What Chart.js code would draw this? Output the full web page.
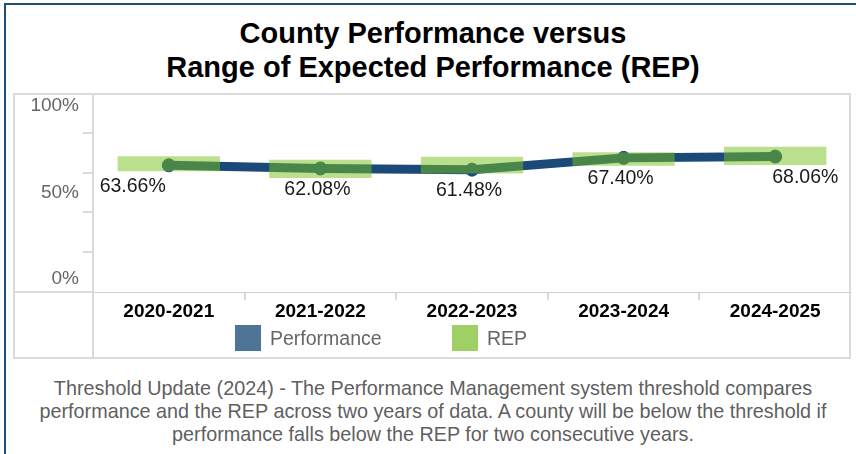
<!DOCTYPE html>
<html lang="en">
<head>
  <meta charset="UTF-8" />
  <title>County Performance versus REP</title>
  <script src="https://cdn.jsdelivr.net/npm/chart.js"></script>
  <style>
    html, body {
      margin: 0;
      overflow: hidden;
    }
    body {
      width: 856px;
      height: 454px;
      background: #fff;
      font-family: 'Liberation Sans', Arial, sans-serif;
      position: relative;
    }
    .frame {
      position: absolute;
      left: 4px;
      top: 3px;
      width: 850px;
      height: 449px;
      border-left: 2px solid #1c4e7a;
      border-top: 2px solid #1c4e7a;
    }
    .title {
      position: absolute;
      left: 6px;
      width: 854px;
      top: 16px;
      margin: 0;
      text-align: center;
      font-size: 29px;
      line-height: 34px;
      font-weight: bold;
      color: #000;
    }
    #chart-wrap {
      position: absolute;
      left: 13px;
      top: 93px;
      width: 838px;
      height: 266px;
    }
    .legend {
      position: absolute;
      top: 325px;
      font-size: 19.5px;
      color: #666;
      line-height: 26px;
      white-space: nowrap;
    }
    .legend span.box {
      display: inline-block;
      width: 26px;
      height: 26px;
      vertical-align: top;
      margin-right: 9px;
    }
    .note {
      position: absolute;
      left: 6px;
      width: 854px;
      top: 377px;
      margin: 0;
      text-align: center;
      font-size: 19.8px;
      line-height: 23px;
      color: #5f5f5f;
      white-space: nowrap;
    }
  </style>
</head>
<body>
  <div class="frame"></div>
  <h2 class="title">County Performance versus<br>Range of Expected Performance (REP)</h2>

  <div id="chart-wrap"><canvas id="repChart" width="838" height="266"></canvas></div>

  <div class="legend" style="left:235px"><span class="box" style="background:#4e7496"></span>Performance</div>
  <div class="legend" style="left:452px"><span class="box" style="background:#9fd066"></span>REP</div>

  <p class="note">Threshold Update (2024) - The Performance Management system threshold compares<br>performance and the REP across two years of data. A county will be below the threshold if<br>performance falls below the REP for two consecutive years.</p>

  <script>
    const years = ['2020-2021', '2021-2022', '2022-2023', '2023-2024', '2024-2025'];
    const performance = [63.66, 62.08, 61.48, 67.40, 68.06];
    const repLow = [60.7, 57.3, 59.5, 63.5, 63.8];
    const repHigh = [68.2, 66.5, 68.0, 70.2, 73.0];
    const yTickValues = [0, 50, 100];
    const yTickLabels = ['0%', '50%', '100%'];
    const labelAlign = ['right', 'center', 'center', 'center', 'left'];

    const gray = '#dadada';

    // frame lines around the axis area (Tableau style grid)
    const framePlugin = {
      id: 'frame',
      beforeDraw(chart) {
        const { ctx, chartArea, width, height } = chart;
        ctx.save();
        ctx.strokeStyle = gray;
        ctx.lineWidth = 2;
        ctx.strokeRect(1, 1, width - 2, height - 2);
        ctx.beginPath();
        ctx.moveTo(chartArea.left, 0);
        ctx.lineTo(chartArea.left, height);
        ctx.moveTo(0, chartArea.bottom);
        ctx.lineTo(chartArea.left, chartArea.bottom);
        ctx.stroke();
        ctx.restore();
      },
      afterDraw(chart) {
        // y labels, kept inside the pane like Tableau does
        const { ctx, chartArea } = chart;
        const y = chart.scales.y;
        ctx.save();
        ctx.font = '19px "Liberation Sans", Arial, sans-serif';
        ctx.fillStyle = '#666';
        ctx.textAlign = 'right';
        ctx.textBaseline = 'middle';
        yTickValues.forEach((v, i) => {
          let py = y.getPixelForValue(v);
          py = Math.max(chartArea.top + 13, Math.min(chartArea.bottom - 13, py));
          ctx.fillText(yTickLabels[i], chartArea.left - 14, py);
        });
        ctx.restore();
      }
    };

    const pointLabels = {
      id: 'pointLabels',
      afterDatasetsDraw(chart) {
        const { ctx } = chart;
        const meta = chart.getDatasetMeta(1);
        ctx.save();
        ctx.font = '19.5px "Liberation Sans", Arial, sans-serif';
        ctx.fillStyle = '#1a1a1a';
        ctx.textBaseline = 'middle';
        meta.data.forEach((pt, i) => {
          ctx.textAlign = labelAlign[i];
          ctx.fillText(performance[i].toFixed(2) + '%', pt.x - 3, pt.y + 21);
        });
        ctx.restore();
      }
    };

    const ctx = document.getElementById('repChart').getContext('2d');
    new Chart(ctx, {
      type: 'bar',
      data: {
        labels: years,
        datasets: [
          {
            label: 'REP',
            data: years.map((_, i) => [repLow[i], repHigh[i]]),
            backgroundColor: 'rgba(119, 193, 27, 0.5)',
            borderWidth: 0,
            barPercentage: 0.675,
            categoryPercentage: 1,
            order: 0
          },
          {
            type: 'line',
            label: 'Performance',
            data: performance,
            borderColor: '#1c4a78',
            backgroundColor: '#1c4a78',
            borderWidth: 9,
            pointRadius: 6.5,
            pointBorderWidth: 1,
            pointHoverRadius: 6.5,
            tension: 0,
            order: 1
          }
        ]
      },
      options: {
        responsive: false,
        animation: false,
        layout: { padding: 0, autoPadding: false },
        plugins: {
          legend: { display: false },
          tooltip: { enabled: false }
        },
        scales: {
          x: {
            afterFit(scale) { scale.height = 67; },
            grid: {
              drawOnChartArea: false,
              color: gray,
              lineWidth: 2,
              tickLength: 8
            },
            border: { display: true, color: '#cfcfcf', width: 1, dash: [3, 2] },
            ticks: {
              color: '#000',
              padding: 0,
              font: { family: '"Liberation Sans", Arial, sans-serif', size: 19, weight: 'bold' }
            }
          },
          y: {
            min: 0,
            max: 100,
            afterFit(scale) { scale.width = 80; },
            ticks: { stepSize: 10, display: false },
            grid: {
              drawOnChartArea: false,
              tickLength: 10,
              lineWidth: 2,
              tickColor: c => [20, 40, 60, 80].includes(c.tick.value) ? gray : 'rgba(0,0,0,0)'
            },
            border: { display: false }
          }
        }
      },
      plugins: [framePlugin, pointLabels]
    });
  </script>
</body>
</html>
